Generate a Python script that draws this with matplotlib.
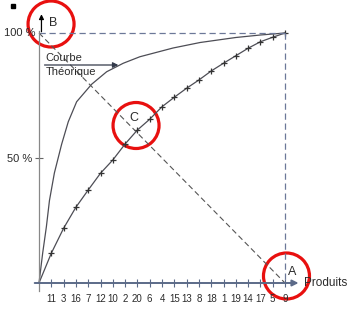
import matplotlib
matplotlib.use("Agg")
import matplotlib.pyplot as plt
from matplotlib.patches import Ellipse

plt.rcParams['font.family'] = ['Liberation Sans', 'DejaVu Sans']

# products sorted by contribution (x axis order)
produits = ['11', '3', '16', '7', '12', '10', '2', '20', '6', '4',
            '15', '13', '8', '18', '1', '19', '14', '17', '5', '9']
# cumulated share (%) after each product
cumul = [0, 11.9, 21.9, 30.3, 37.2, 43.9, 49.2, 55.6, 61.2, 65.5, 70.5,
         74.3, 77.9, 81.2, 84.8, 87.9, 90.9, 93.9, 96.5, 98.3, 100]
# theoretical curve (upper line)
theo_x = [0, 0.3, 0.6, 0.85, 1.25, 1.84, 2.38, 3.06, 4.28, 5.5, 6.85,
          8.2, 10.9, 13.1, 16, 18, 20]
theo_y = [0, 12, 22.5, 33, 44, 55.5, 64.5, 72.5, 79.5, 84.5, 87.9,
          90.5, 94.0, 96.2, 98.2, 99.2, 100]

LINE = '#4d4d55'
AXIS = '#5b6a88'
TXT = '#2b2b2b'

fig = plt.figure(figsize=(3.51, 3.10), dpi=100)
# data 0..20 -> px 39..285, 0..100 % -> px 283..33
ax = fig.add_axes([39 / 351, 27 / 310, 246 / 351, 250 / 310])
ax.set_xlim(0, 20)
ax.set_ylim(0, 100)
for s in ax.spines.values():
    s.set_visible(False)

n = len(produits)
xs = list(range(n + 1))

# curves
ax.plot(theo_x, theo_y, color=LINE, lw=0.9, clip_on=False)
ax.plot(xs, cumul, color=LINE, lw=0.9, clip_on=False)
ax.plot(xs[1:], cumul[1:], ls='none', marker='+', ms=5, mew=0.9,
        color='#333333', clip_on=False)

# reference dashed lines
ax.plot([0, 20], [100, 100], ls=(0, (5, 3)), color='#6c7898', lw=0.9, clip_on=False)
ax.plot([20, 20], [100, 0], ls=(0, (5, 3)), color='#6c7898', lw=0.9, clip_on=False)
ax.plot([0, 20], [100, 0], ls=(0, (5, 3)), color='#555555', lw=0.8, clip_on=False)

# axes drawn by hand
ax.plot([0, 0], [-3, 101], color='#888888', lw=0.9, clip_on=False)
ax.annotate('', xy=(0.2, 107.5), xytext=(0.2, 100.5),
            arrowprops=dict(arrowstyle='-|>', color='black', lw=0.9,
                            mutation_scale=7, shrinkA=0, shrinkB=0),
            annotation_clip=False)
ax.annotate('', xy=(21.1, 0), xytext=(-0.35, 0),
            arrowprops=dict(arrowstyle='-|>', color=AXIS, lw=1.4,
                            mutation_scale=9, shrinkA=0, shrinkB=0),
            annotation_clip=False)

ax.set_xticks(range(1, n + 1))
ax.set_xticklabels(produits, fontsize=7, color=TXT)
ax.tick_params(axis='x', direction='inout', length=6, width=0.8,
               color=AXIS, pad=5)
ax.set_yticks([50])
ax.set_yticklabels(['50 %'], fontsize=8, color=TXT)
ax.tick_params(axis='y', direction='inout', length=6, width=0.8,
               color='#666666', pad=2)
ax.text(-0.3, 100, '100 %', fontsize=8, color=TXT, ha='right', va='center')

# annotations
ax.text(0.8, 104, 'B', fontsize=9, color=TXT, va='center')
ax.text(7.7, 66, 'C', fontsize=9, color=TXT, ha='center', va='center')
ax.text(20.55, 4.4, 'A', fontsize=9, color=TXT, ha='center', va='center')
ax.text(21.55, 0, 'Produits', fontsize=8.5, color=TXT, va='center')
ax.text(0.55, 90, 'Courbe', fontsize=8, color=TXT, va='center')
ax.text(0.55, 84.3, 'Théorique', fontsize=8, color=TXT, va='center')
ax.annotate('', xy=(6.45, 87.2), xytext=(0.45, 87.2),
            arrowprops=dict(arrowstyle='-|>', color='#333a4a', lw=0.9,
                            mutation_scale=8, shrinkA=0, shrinkB=0))

# red circles around the key points
for cx, cy in [(0.98, 103.6), (7.89, 63.0), (20.12, 2.8)]:
    ax.add_patch(Ellipse((cx, cy), 46 / 12.3, 46 / 2.5, fill=False,
                         ec='#e8100f', lw=2.3, clip_on=False))

fig.patches.append(plt.Rectangle((11 / 351, 1 - 8 / 310), 4 / 351, 4 / 310,
                                 transform=fig.transFigure, color='black'))

fig.savefig('out.png', dpi=100)
